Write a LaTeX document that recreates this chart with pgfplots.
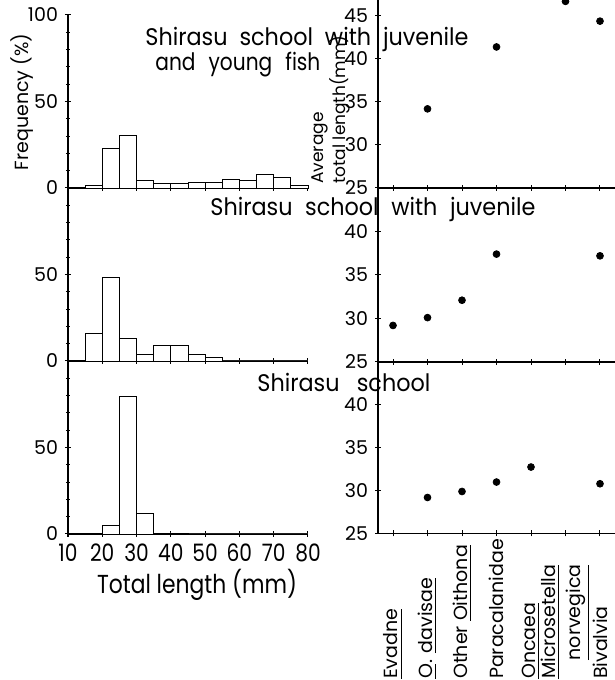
\documentclass[border=0pt]{standalone}
\usepackage{fontspec}
\setmainfont{Poppins}
\newfontfamily\narrowfont[FakeStretch=0.84]{Poppins}
\newfontfamily\titlefont[FakeStretch=0.93]{Poppins}
\usepackage{pgfplots}
\pgfplotsset{compat=1.18}

\newcommand{\catlab}[1]{\makebox[71pt][l]{#1}}

\pgfplotsset{
  panel/.style={
    scale only axis,
    axis lines=left,
    axis line style={-, line width=0.6pt},
    tick style={black, line width=0.5pt},
    major tick length=3pt,
    minor tick length=2pt,
    tick label style={/pgf/number format/assume math mode=true},
    anchor=south west,
    clip=false,
  },
  hist/.style={
    panel,
    width=120pt,
    xmin=10, xmax=80,
    ymin=0, ymax=100,
    xtick={10,20,...,80},
    ytick={0,50},
    minor ytick={10,20,30,40,60,70,80,90},
    yticklabel style={font=\fontsize{9.5}{10}\selectfont},
    xticklabel style={font=\narrowfont\fontsize{12}{13}\selectfont},
  },
  dots/.style={
    panel,
    width=118.5pt,
    xmin=-0.435, xmax=6.435,
    ymin=25,
    xtick={0,1,...,6},
    ytick={25,30,35,40},
    yticklabel style={font=\fontsize{9.5}{10}\selectfont},
  },
  bars/.style={ybar interval, fill=white, draw=black, line width=0.45pt},
  pts/.style={only marks, mark=*, mark size=1.7pt, black},
}

\begin{document}
\begin{tikzpicture}
\useasboundingbox (0,0) rectangle (307.5pt,340pt);

% left column: frequency histograms
\begin{axis}[hist, at={(34pt,246pt)}, height=86.5pt, ytick={0,50,100}, xticklabels={}]
\addplot[bars] coordinates {
  (15,1.3) (20,22.6) (25,30.3) (30,4.6) (35,2.9) (40,2.9) (45,3.3)
  (50,3.3) (55,5.0) (60,4.2) (65,7.7) (70,6.1) (75,1.3) (80,0)
};
\end{axis}

\begin{axis}[hist, at={(34pt,159.5pt)}, height=86.5pt, xticklabels={}]
\addplot[bars] coordinates {
  (15,16.0) (20,48.3) (25,13.0) (30,3.8) (35,9.0) (40,9.0) (45,3.8)
  (50,1.9) (55,0) (80,0)
};
\end{axis}

\begin{axis}[hist, at={(34pt,73pt)}, height=86.5pt]
\addplot[bars] coordinates {
  (20,5.2) (25,79.3) (30,12.0) (35,0.6) (40,0.5) (45,0) (80,0)
};
\end{axis}

% right column: average total length by food item
\begin{axis}[dots, at={(189pt,246pt)}, height=93.75pt, ymax=46.8,
  ytick={25,30,...,45}, xticklabels={}]
\addplot[pts] coordinates {(1,34.2) (3,41.4) (5,46.7) (6,44.4)};
\end{axis}

\begin{axis}[dots, at={(189pt,159pt)}, height=87pt, ymax=45, xticklabels={}]
\addplot[pts] coordinates {(0,29.2) (1,30.1) (2,32.1) (3,37.4) (6,37.2)};
\end{axis}

\begin{axis}[dots, at={(189pt,73.25pt)}, height=85.75pt, ymax=45,
  xticklabel style={rotate=90, anchor=east, inner sep=0pt,
    font=\fontsize{9.5}{10.5}\selectfont},
  xticklabels={
    \catlab{\underline{Evadne}},
    \catlab{\underline{O}. \underline{davisae}},
    \catlab{Other \underline{Oithona}},
    \catlab{Paracalanidae},
    \catlab{\underline{Oncaea}},
    \catlab{\shortstack[r]{\underline{Microsetella}\\\underline{norvegica}}},
    \catlab{Bivalvia}
  }]
\addplot[pts] coordinates {(1,29.2) (2,29.9) (3,31.0) (4,32.75) (6,30.8)};
\end{axis}

% panel titles
\node[anchor=base west, inner sep=0pt, font=\titlefont\fontsize{12}{13}\selectfont]
  at (72.5pt,317pt) {\makebox[161.5pt][s]{Shirasu\hfill school\hfill with\hfill juvenile}};
\node[anchor=base west, inner sep=0pt, font=\narrowfont\fontsize{12}{13}\selectfont]
  at (77.5pt,304.5pt) {\makebox[82.5pt][s]{and\hfill young\hfill fish}};
\node[anchor=base west, inner sep=0pt, font=\titlefont\fontsize{12}{13}\selectfont]
  at (105pt,232pt) {\makebox[162.5pt][s]{Shirasu\hfill school\hfill with\hfill juvenile}};
\node[anchor=base west, inner sep=0pt, font=\titlefont\fontsize{12}{13}\selectfont]
  at (128.5pt,144pt) {\makebox[86.5pt][s]{Shirasu\hfill school}};

% axis titles
\node[rotate=90, font=\fontsize{9.5}{10}\selectfont] at (11pt,289pt) {Frequency (\%)};
\node[font=\narrowfont\fontsize{13}{14}\selectfont] at (98.5pt,47.5pt) {Total length (mm)};
\node[rotate=90, anchor=west, align=left, inner sep=0pt,
  font=\fontsize{8.5}{9}\selectfont] at (165.5pt,248pt) {Average\\total length(mm)};
\end{tikzpicture}
\end{document}
